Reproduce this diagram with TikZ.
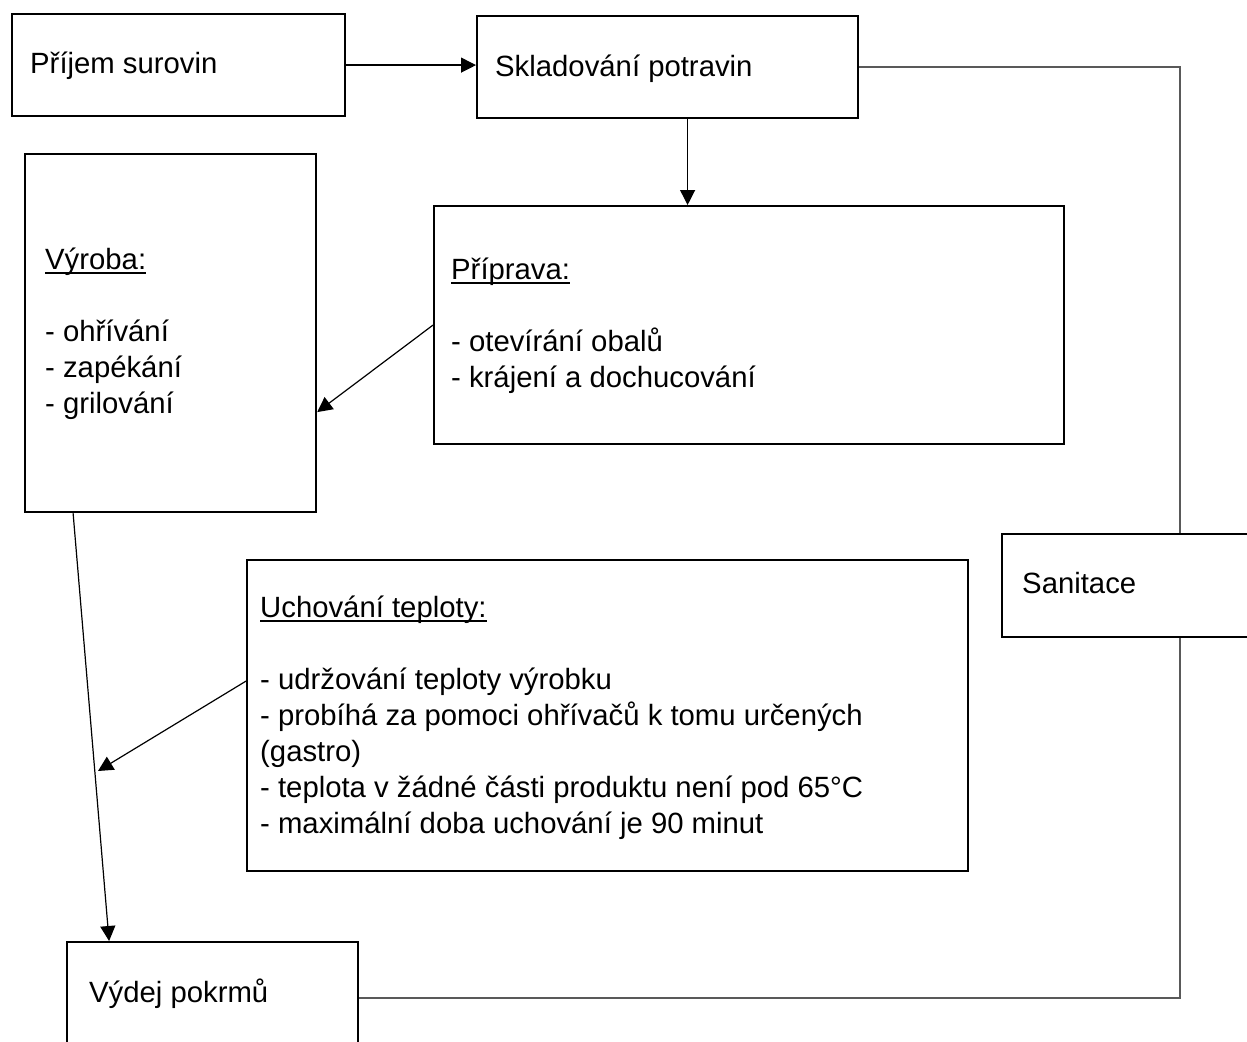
\documentclass[tikz,border=0pt]{standalone}
\usepackage{fontspec}
\setmainfont{Liberation Sans}
\usetikzlibrary{arrows.meta}
\newcommand{\ulin}[1]{\setbox0=\hbox{#1}\rlap{\rule[-4.5pt]{\wd0}{1.8pt}}\box0}
\newcommand{\blk}[1]{\vtop{\baselineskip=36pt\lineskiplimit=-100pt #1}}
\begin{document}
\begin{tikzpicture}[x=1pt,y=-1pt,
  box/.style={draw=black, line width=2.2pt, rectangle, inner sep=0pt, anchor=north west},
  txt/.style={anchor=base west, inner sep=0pt, font=\fontsize{29.3}{36}\selectfont},
  arr/.style={line width=1.2pt, draw=black, -{Triangle[length=15pt,width=15pt]}},
  san/.style={line width=1.4pt, draw=black!65}]
\clip (0,0) rectangle (1247,1041);
\fill[white] (0,0) rectangle (1247,1041);
% boxes
\node[box, minimum width=333pt, minimum height=102pt] (prijem) at (11,13) {};
\node[box, minimum width=381pt, minimum height=102pt] (sklad) at (476,15) {};
\node[box, minimum width=291pt, minimum height=358pt] (vyroba) at (24,153) {};
\node[box, minimum width=630pt, minimum height=238pt] (priprava) at (433,205) {};
\node[box, minimum width=356pt, minimum height=103pt] (sanit) at (1001,533) {};
\node[box, minimum width=721pt, minimum height=311pt] (uch) at (246,559) {};
\node[box, minimum width=291pt, minimum height=112pt] (vydej) at (66,941) {};
% texts
\node[txt] (t1) at (30,74) {Příjem surovin};
\node[txt] (t2) at (495,76) {Skladování potravin};
\node[txt] (t3) at (45,269) {\blk{\hbox{\ulin{Výroba:}}\hbox{}\hbox{- ohřívání}\hbox{- zapékání}\hbox{- grilování}}};
\node[txt] (t4) at (451,279) {\blk{\hbox{\ulin{Příprava:}}\hbox{}\hbox{- otevírání obalů}\hbox{- krájení a dochucování}}};
\node[txt] (t5) at (260,617) {\blk{\hbox{\ulin{Uchování teploty:}}\hbox{}\hbox{- udržování teploty výrobku}\hbox{- probíhá za pomoci ohřívačů k tomu určených}\hbox{(gastro)}\hbox{- teplota v žádné části produktu není pod 65°C}\hbox{- maximální doba uchování je 90 minut}}};
\node[txt] (t6) at (1022,593) {Sanitace};
\node[txt] (t7) at (89,1002) {Výdej pokrmů};
% connectors
\draw[arr] (prijem.east) -- (prijem.east -| sklad.west);
\draw[arr] ([xshift=20pt]sklad.south) -- ([xshift=20pt]sklad.south |- priprava.north);
\draw[arr] (priprava.west) -- ([yshift=-79pt]vyroba.east);
\draw[arr] ([xshift=-97.5pt]vyroba.south) -- ([xshift=-103.5pt]vydej.north);
\coordinate (hit) at (98,771);
\draw[arr] ([yshift=34.5pt]uch.west) -- (hit);
\draw[san] (sklad.east) -| (sanit.north);
\draw[san] (sanit.south) |- (vydej.east);
\end{tikzpicture}
\end{document}
